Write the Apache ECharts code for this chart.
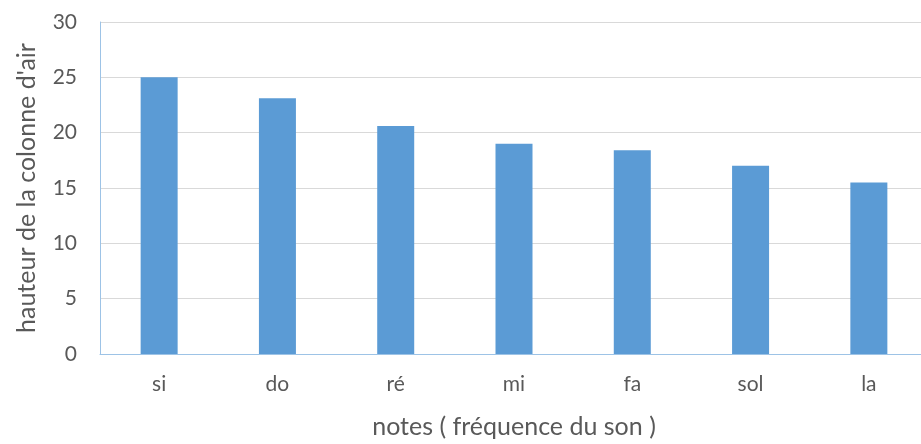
<!DOCTYPE html>
<html>
<head>
<meta charset="utf-8">
<script src="https://cdn.jsdelivr.net/npm/echarts@6/dist/echarts.min.js"></script>
<style>
  html, body { margin: 0; padding: 0; background: #fff; overflow: hidden; }
  /* the plot runs a little past the right edge of the window */
  #chart { width: 930px; height: 444px; }
</style>
</head>
<body>
<div id="chart"></div>
<script>
// Notes, from the lowest to the highest frequency
const notes = ['si', 'do', 'ré', 'mi', 'fa', 'sol', 'la'];
// Height of the air column for each note
const hauteurs = [25, 23.1, 20.6, 19, 18.4, 17, 15.5];
// Vertical scale
const yMin = 0;
const yMax = 30;
const yStep = 5;

const textColor = '#595959';
const fontFamily = 'Lato, "Liberation Sans", sans-serif';

const chart = echarts.init(document.getElementById('chart'));
chart.setOption({
  animation: false,
  grid: { left: 100, right: 2, top: 22, bottom: 89, containLabel: false },
  xAxis: {
    type: 'category',
    data: notes,
    name: 'notes ( fréquence du son )',
    nameLocation: 'middle',
    nameGap: 60,
    nameTextStyle: { color: textColor, fontSize: 25, fontFamily },
    axisLine: { lineStyle: { color: '#9dc3e6', width: 1 } },
    axisTick: { show: false },
    axisLabel: { color: textColor, fontSize: 21, fontFamily, margin: 20 }
  },
  yAxis: {
    type: 'value',
    min: yMin,
    max: yMax,
    interval: yStep,
    name: "hauteur de la colonne d'air",
    nameLocation: 'middle',
    nameGap: 61,
    nameTextStyle: { color: textColor, fontSize: 25, fontFamily },
    axisLine: { show: true, lineStyle: { color: '#9dc3e6', width: 1 } },
    axisTick: { show: false },
    axisLabel: { color: textColor, fontSize: 21, fontFamily, margin: 23 },
    splitLine: { lineStyle: { color: '#d9d9d9', width: 1 } }
  },
  series: [{
    type: 'bar',
    data: hauteurs,
    barWidth: 37,
    itemStyle: { color: '#5b9bd5' }
  }]
});
</script>
</body>
</html>
